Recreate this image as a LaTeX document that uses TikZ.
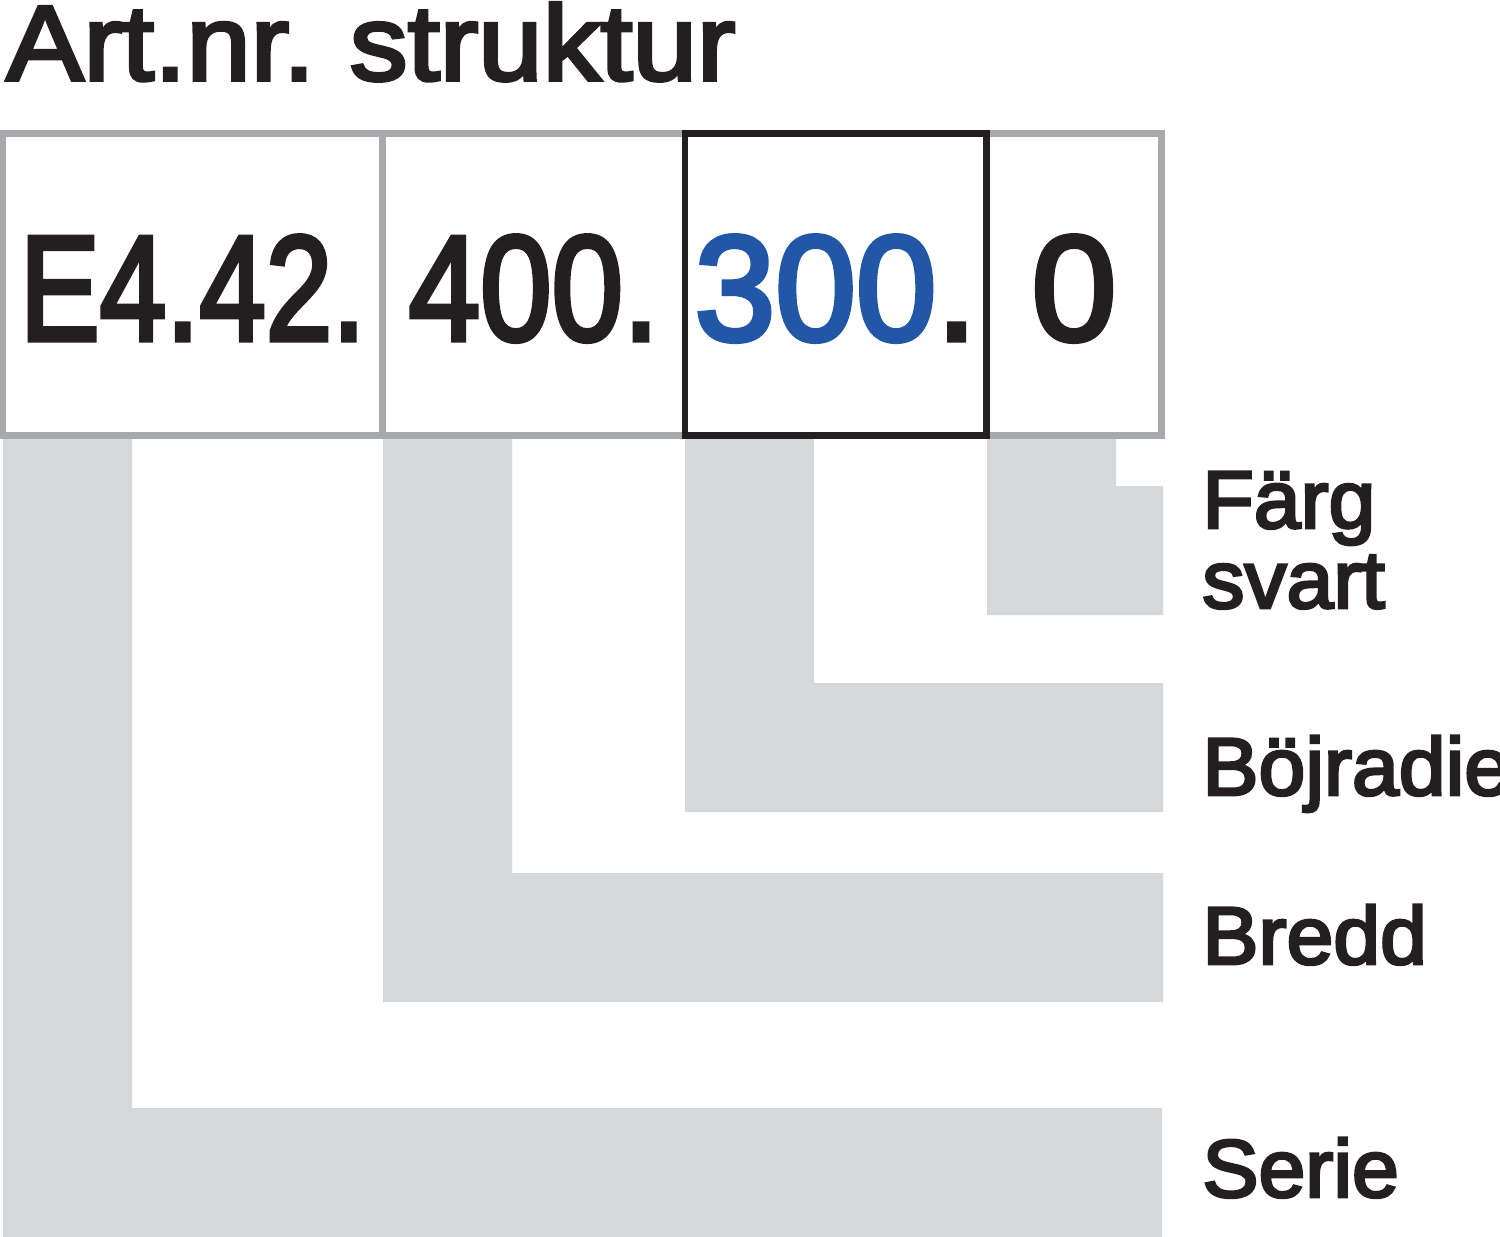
\documentclass[tikz,border=0pt]{standalone}
\usepackage{fontspec}
\setmainfont{Liberation Sans}
\newfontfamily\titlefont[FakeStretch=1.085,FakeBold=3.5]{Liberation Sans}
\newfontfamily\numfont[FakeBold=3.5]{Liberation Sans}
\newfontfamily\tagfont[FakeStretch=1.03,FakeBold=3.5]{Liberation Sans}
\usetikzlibrary{positioning}
\definecolor{inkblack}{HTML}{231F20}
\definecolor{framegrey}{HTML}{A7A9AC}
\definecolor{bargrey}{HTML}{D7D8DA}
\definecolor{artblue}{HTML}{2257A8}
\tikzset{
  cell/.style={draw=framegrey, line width=3.25pt, inner sep=0pt, outer sep=0pt,
    minimum height=151pt, text height=55.5pt, text depth=0pt,
    font=\numfont\fontsize{74.7}{80}\selectfont, text=inkblack},
  bar/.style={fill=bargrey},
  tag/.style={anchor=base west, inner sep=0pt,
    font=\tagfont\fontsize{40.85}{48}\selectfont, text=inkblack}
}

\begin{document}
\begin{tikzpicture}[x=0.5pt, y=-0.5pt]
\useasboundingbox (0,0) rectangle (1500,1237);
% Title
    \node[anchor=base west, inner sep=0pt, text=inkblack,
      font=\titlefont\fontsize{53.3}{60}\selectfont] (title) at (6,80) {Art.nr.\kern-4pt{} struktur};
% Bars
    \fill[bar] (3,435) -- (132,435) -- (132,1108) -- (1162,1108) -- (1162,1237) -- (3,1237) -- cycle;
    \fill[bar] (383,435) -- (512,435) -- (512,873) -- (1163,873) -- (1163,1002) -- (383,1002) -- cycle;
    \fill[bar] (685,435) -- (814,435) -- (814,683) -- (1163,683) -- (1163,812) -- (685,812) -- cycle;
    \fill[bar] (987,435) -- (1116,435) -- (1116,486) -- (1163,486) -- (1163,615) -- (987,615) -- cycle;
% Cells
    \node[cell, minimum width=189.75pt] (serie) at (192.75,284.5) {\scalebox{0.8}[1]{E4.42.}};
    \node[cell, minimum width=151.25pt, right=0pt of serie] (bredd) {\scalebox{0.86}[1]{400.}};
    \node[cell, minimum width=150.75pt, right=0pt of bredd] (radie) {\scalebox{0.97}[1]{\textcolor{artblue}{300}.}};
    \node[cell, minimum width=87.5pt, right=0pt of radie] (farg) {\scalebox{1.02}[1]{0}};
    \draw[inkblack, line width=3.25pt] (radie.north west) rectangle (radie.south east);
% Labels
    \node[tag] (lfarg) at (1202,528) {Färg};
    \node[tag] (lsvart) at (1202,608) {svart};
    \node[tag] (lradie) at (1202,795) {Böjradie};
    \node[tag] (lbredd) at (1202,964) {Bredd};
    \node[tag] (lserie) at (1202,1197) {Serie};
\end{tikzpicture}
\end{document}
